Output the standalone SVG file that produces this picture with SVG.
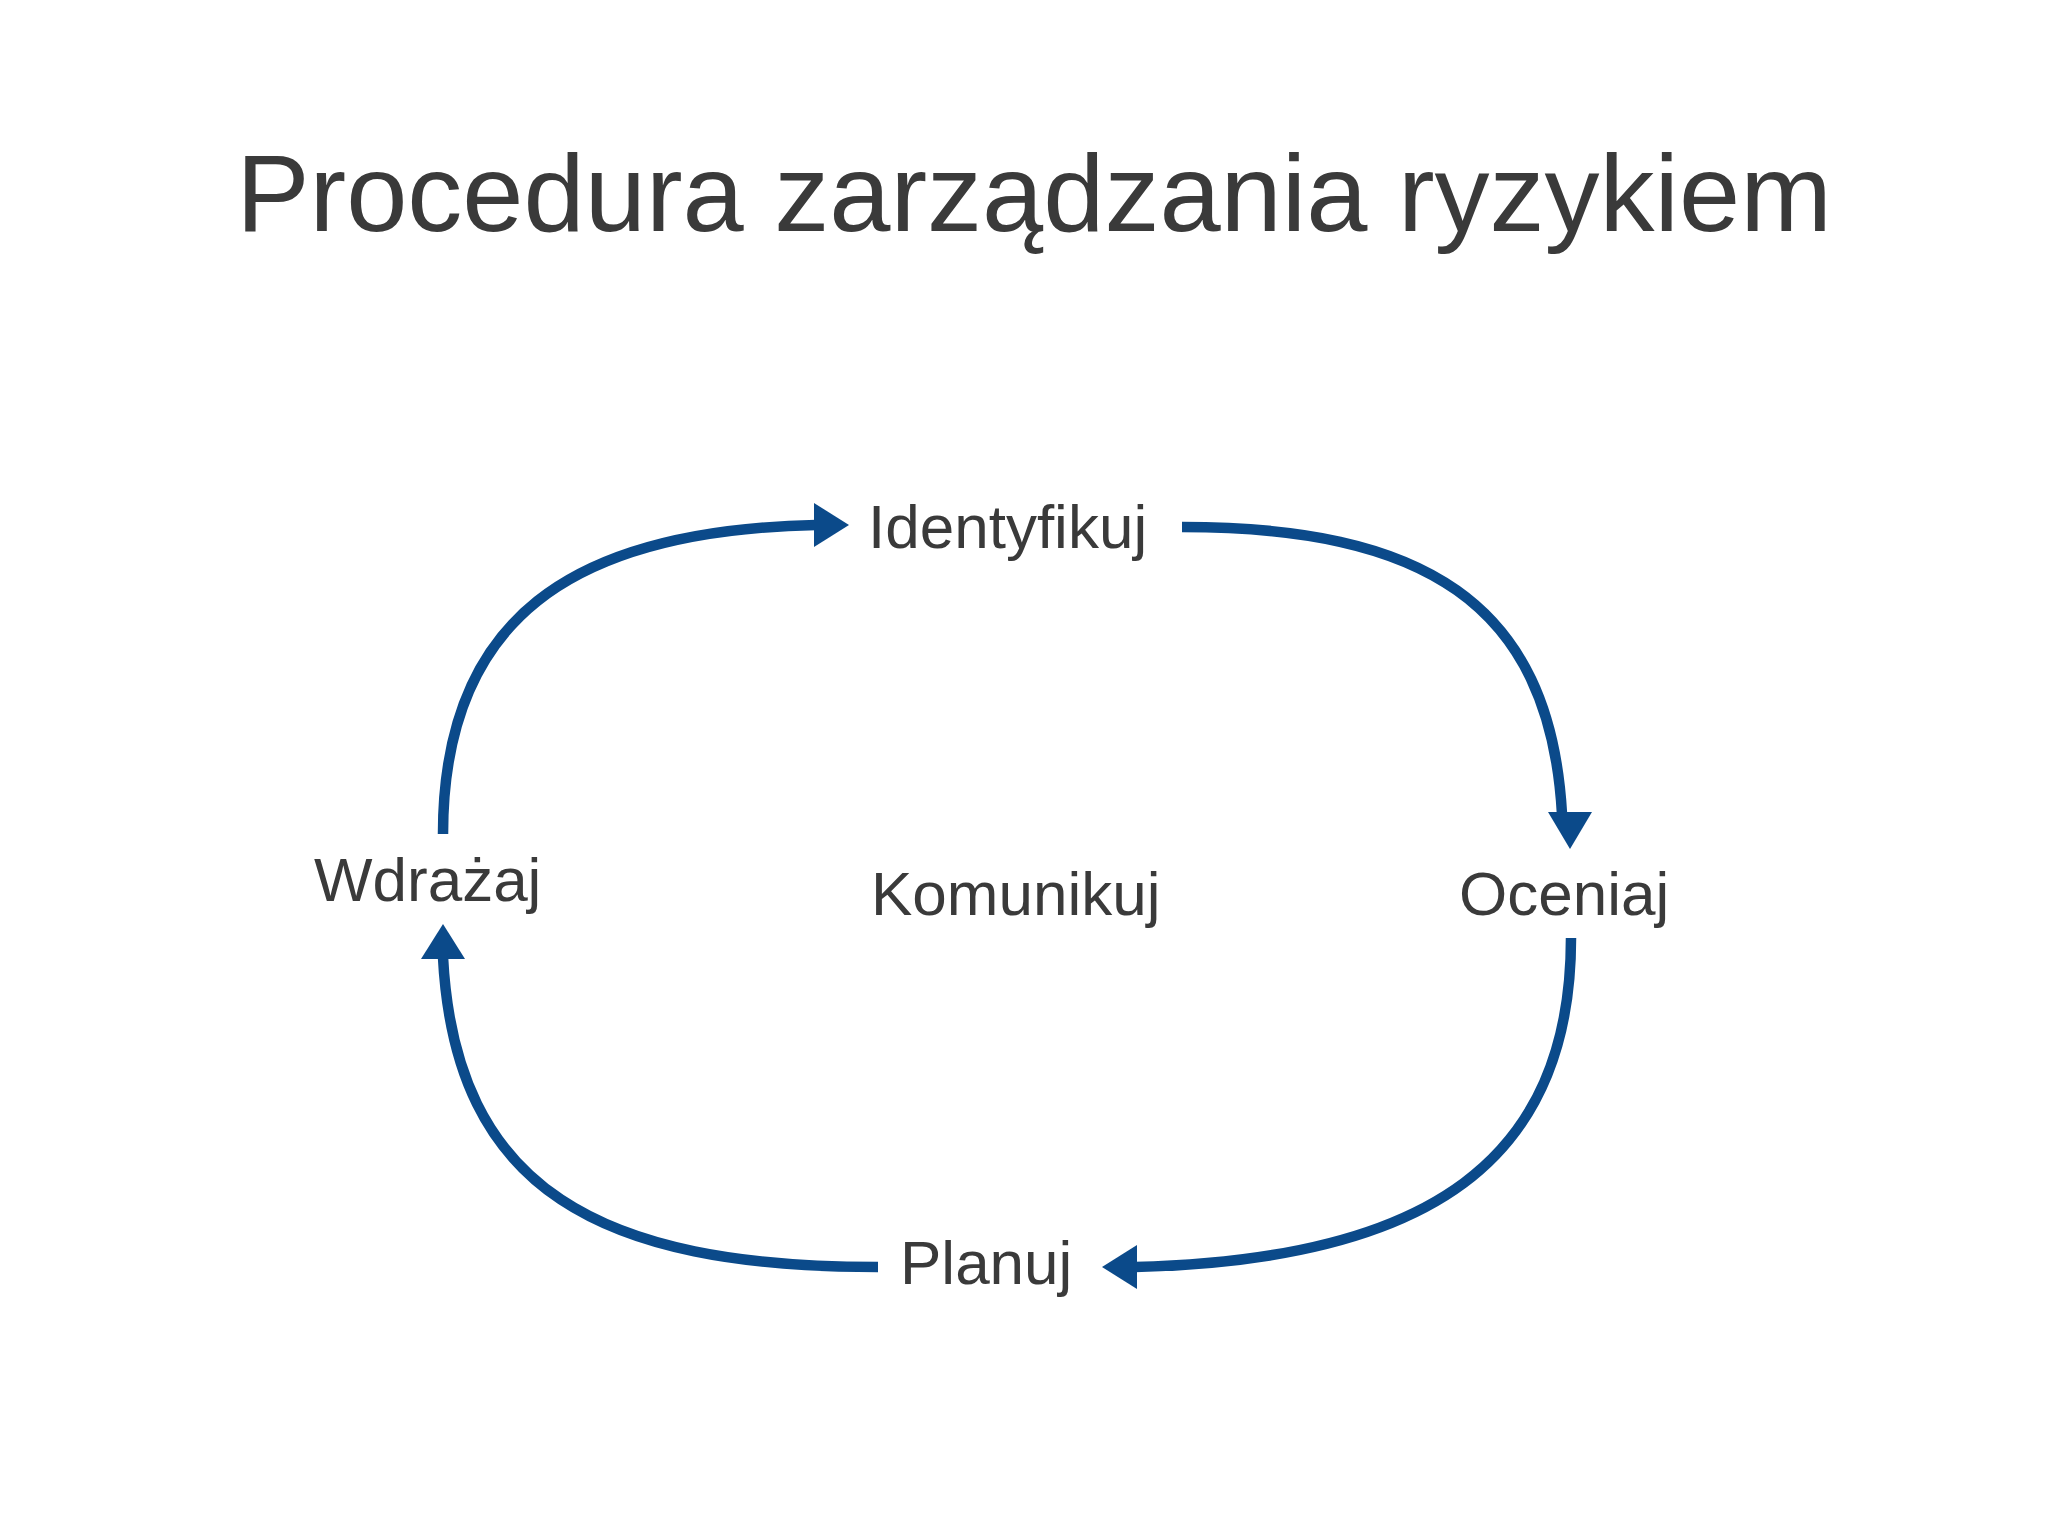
<svg xmlns="http://www.w3.org/2000/svg" width="2048" height="1535" viewBox="0 0 2048 1535">
<style>
text{font-family:"Liberation Sans",Arial,sans-serif;fill:#3a3a3a}
.l{font-size:62px}
.c{fill:none;stroke:#0b4a8a;stroke-width:10.5}
.h{fill:#0b4a8a}
</style>
<rect width="2048" height="1535" fill="#ffffff"/>
<text x="1034" y="231" font-size="110" text-anchor="middle">Procedura zarządzania ryzykiem</text>
<g id="identyfikuj"><text class="l" x="868" y="548">Identyfikuj</text></g>
<g id="oceniaj"><text class="l" x="1459" y="915">Oceniaj</text></g>
<g id="planuj"><text class="l" x="900" y="1284">Planuj</text></g>
<g id="wdrazaj"><text class="l" x="314" y="901">Wdrażaj</text></g>
<g id="komunikuj"><text class="l" x="871" y="915">Komunikuj</text></g>
<g id="connectors">
<path class="c" d="M443,834 C443,620 570,530 816,525"/>
<polygon class="h" points="849,525 814,503 814,547"/>
<path class="c" d="M1182,527 C1420,527 1550,600 1562,814"/>
<polygon class="h" points="1570,849 1548,812 1592,812"/>
<path class="c" d="M1571,938 C1571,1160 1430,1260 1135,1267"/>
<polygon class="h" points="1102,1267 1137,1245 1137,1289"/>
<path class="c" d="M878,1267 C600,1267 455,1190 443,957"/>
<polygon class="h" points="443,924 421,959 465,959"/>
</g>
</svg>
